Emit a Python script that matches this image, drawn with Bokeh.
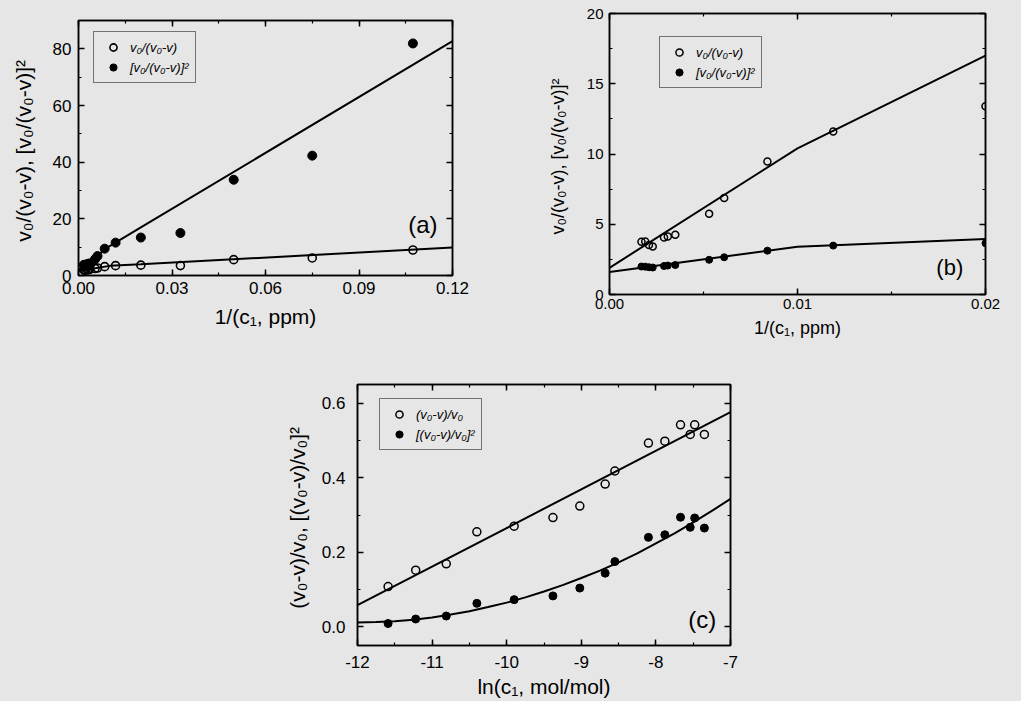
from bokeh.plotting import figure
from bokeh.layouts import row, column, Spacer
from bokeh.models import (LinearAxis, SingleIntervalTicker, NumeralTickFormatter,
                          Legend, LegendItem, Label, Range1d, CustomLabelingPolicy)
from bokeh.embed import file_html
from bokeh.resources import INLINE

# ---------------- data ----------------
# panels (a)/(b): x = 1/(c1, ppm)
inv_c = [0.0017, 0.0019, 0.0021, 0.0023, 0.0029, 0.0031, 0.0035, 0.0053, 0.0061,
         0.0084, 0.0119, 0.0200, 0.0327, 0.0498, 0.0750, 0.1073]
ratio = [1.99, 1.98, 1.94, 1.92, 2.03, 2.06, 2.10, 2.47, 2.65,
         3.12, 3.48, 3.65, 3.5, 5.6, 6.2, 9.0]
ratio_sq = [3.75, 3.78, 3.52, 3.42, 4.05, 4.12, 4.25, 5.74, 6.86,
            9.47, 11.6, 13.4, 15.0, 33.8, 42.3, 81.9]
fit_x = [0.0, 0.01, 0.02, 0.12]
fit_hi = [1.9, 10.4, 17.0, 82.7]
fit_lo = [1.6, 3.4, 3.95, 9.9]

# panel (c): x = ln(c1, mol/mol)
ln_c = [-11.59, -11.22, -10.81, -10.40, -9.90, -9.38, -9.02, -8.68, -8.55,
        -8.10, -7.88, -7.67, -7.54, -7.48, -7.35]
frac = [0.108, 0.152, 0.169, 0.255, 0.270, 0.293, 0.324, 0.383, 0.418,
        0.493, 0.498, 0.542, 0.516, 0.542, 0.516]
frac_sq = [0.009, 0.021, 0.029, 0.063, 0.073, 0.083, 0.104, 0.144, 0.175,
           0.240, 0.247, 0.294, 0.267, 0.292, 0.265]
cfit_hi_x = [-12.0, -7.0]
cfit_hi_y = [0.058, 0.576]
cfit_lo_x = [-12.0, -11.75, -11.5, -11.25, -11.0, -10.75, -10.5, -10.25, -10.0, -9.75,
             -9.5, -9.25, -9.0, -8.75, -8.5, -8.25, -8.0, -7.75, -7.5, -7.25, -7.0]
cfit_lo_y = [0.012, 0.013, 0.015, 0.019, 0.025, 0.033, 0.042, 0.053, 0.065, 0.079,
             0.095, 0.112, 0.131, 0.151, 0.173, 0.197, 0.224, 0.251, 0.280, 0.311, 0.343]

BG = "#e6e6e6"
FONT = "Liberation Sans"

NO_LABELS = CustomLabelingPolicy(code="""
    const all = [...indices]
    for (const i of all) indices.unset(i)
    return indices
""")


def style(p, xt, yt, xfmt, yfmt, tick_size, label_size, xstand, ystand, xlab, ylab):
    for ax in (p.xaxis[0], p.yaxis[0]):
        ax.major_tick_in = 6
        ax.major_tick_out = 0
        ax.minor_tick_in = 3
        ax.minor_tick_out = 0
        ax.axis_line_color = "black"
        ax.axis_line_width = 1.5
        ax.major_tick_line_width = 1.5
        ax.minor_tick_line_width = 1.2
        ax.major_label_text_font = FONT
        ax.major_label_text_font_size = tick_size
        ax.major_label_text_color = "black"
        ax.axis_label_text_font = FONT
        ax.axis_label_text_font_size = label_size
        ax.axis_label_text_font_style = "normal"
        ax.axis_label_text_color = "black"
    p.xaxis[0].ticker = xt
    p.yaxis[0].ticker = yt
    p.xaxis[0].formatter = NumeralTickFormatter(format=xfmt)
    p.yaxis[0].formatter = NumeralTickFormatter(format=yfmt)
    p.xaxis[0].major_label_standoff = xstand
    p.yaxis[0].major_label_standoff = ystand
    p.xaxis[0].axis_label_standoff = xlab
    p.yaxis[0].axis_label_standoff = ylab
    for t, loc in ((xt, "above"), (yt, "right")):
        m = LinearAxis(ticker=t, major_label_policy=NO_LABELS,
                       major_label_text_font_size="0px", axis_label_standoff=0,
                       major_tick_in=6, major_tick_out=0, minor_tick_in=3,
                       minor_tick_out=0, major_label_standoff=0,
                       axis_line_color="black", axis_line_width=1.5,
                       major_tick_line_width=1.5, minor_tick_line_width=1.2)
        p.add_layout(m, loc)
    p.xgrid.visible = False
    p.ygrid.visible = False
    p.outline_line_color = "black"
    p.outline_line_width = 1.5
    p.background_fill_color = BG
    p.border_fill_color = BG


def add_legend(p, r1, r2, t1, t2, loc):
    leg = Legend(items=[LegendItem(label=t1, renderers=[r1]),
                        LegendItem(label=t2, renderers=[r2])],
                 location=loc, glyph_height=18, glyph_width=26, label_height=18,
                 spacing=2, padding=6, margin=0, label_standoff=4,
                 label_text_font=FONT, label_text_font_size="13px",
                 label_text_font_style="italic", label_text_color="black",
                 border_line_color="black", border_line_width=1.5,
                 background_fill_color=BG, background_fill_alpha=1)
    p.add_layout(leg, "center")


# ---------------- panel (a) ----------------
pa = figure(frame_width=374, frame_height=255, min_border_left=78, min_border_right=46,
            min_border_top=13, min_border_bottom=52, output_backend="svg", title=None,
            toolbar_location=None, x_range=Range1d(0, 0.12), y_range=Range1d(0, 90),
            x_axis_label="1/(c₁, ppm)", y_axis_label="v₀/(v₀-v),  [v₀/(v₀-v)]²")
style(pa, SingleIntervalTicker(interval=0.03, num_minor_ticks=2),
      SingleIntervalTicker(interval=20, num_minor_ticks=2), "0.00", "0", "17px", "21px",
      6, 7, 8, 15)
pa.line(fit_x, fit_hi, line_color="black", line_width=2)
pa.line(fit_x, fit_lo, line_color="black", line_width=2)
ra1 = pa.scatter(inv_c, ratio, marker="circle", size=8, fill_color=None,
                 line_color="black", line_width=1.6)
ra2 = pa.scatter(inv_c, ratio_sq, marker="circle", size=9, fill_color="black",
                 line_color="black")
add_legend(pa, ra1, ra2, "v₀/(v₀-v)", "[v₀/(v₀-v)]²", (15, 192))
pa.add_layout(Label(x=0.1105, y=18, text="(a)", text_font=FONT, text_font_size="24px",
                    text_align="center", text_baseline="middle", text_color="black"))

# ---------------- panel (b) ----------------
nb = sum(1 for v in inv_c if v <= 0.02)
pb = figure(frame_width=376, frame_height=281, min_border_left=111, min_border_right=20,
            min_border_top=13, min_border_bottom=52, output_backend="svg", title=None,
            toolbar_location=None, x_range=Range1d(0, 0.02), y_range=Range1d(0, 20),
            x_axis_label="1/(c₁, ppm)", y_axis_label="v₀/(v₀-v),  [v₀/(v₀-v)]²")
style(pb, SingleIntervalTicker(interval=0.01, num_minor_ticks=2),
      SingleIntervalTicker(interval=5, num_minor_ticks=2), "0.00", "0", "15px", "18px",
      4, 6, 6, 16)
pb.line(fit_x[:3], fit_hi[:3], line_color="black", line_width=2)
pb.line(fit_x[:3], fit_lo[:3], line_color="black", line_width=2)
rb1 = pb.scatter(inv_c[:nb], ratio_sq[:nb], marker="circle", size=7, fill_color=None,
                 line_color="black", line_width=1.5)
rb2 = pb.scatter(inv_c[:nb], ratio[:nb], marker="circle", size=7, fill_color="black",
                 line_color="black")
add_legend(pb, rb1, rb2, "v₀/(v₀-v)", "[v₀/(v₀-v)]²", (50, 206))
pb.add_layout(Label(x=0.0181, y=1.9, text="(b)", text_font=FONT, text_font_size="22px",
                    text_align="center", text_baseline="middle", text_color="black"))

# ---------------- panel (c) ----------------
pc = figure(frame_width=373, frame_height=261, min_border_left=89, min_border_right=30,
            min_border_top=38, min_border_bottom=52, output_backend="svg", title=None,
            toolbar_location=None, x_range=Range1d(-12, -7), y_range=Range1d(-0.05, 0.65),
            x_axis_label="ln(c₁, mol/mol)", y_axis_label="(v₀-v)/v₀,  [(v₀-v)/v₀]²")
style(pc, SingleIntervalTicker(interval=1, num_minor_ticks=2),
      SingleIntervalTicker(interval=0.2, num_minor_ticks=2), "0", "0.0", "17px", "21px",
      10, 12, 4, 10)
pc.line(cfit_hi_x, cfit_hi_y, line_color="black", line_width=2)
pc.line(cfit_lo_x, cfit_lo_y, line_color="black", line_width=2)
rc1 = pc.scatter(ln_c, frac, marker="circle", size=8, fill_color=None,
                 line_color="black", line_width=1.5)
rc2 = pc.scatter(ln_c, frac_sq, marker="circle", size=8, fill_color="black",
                 line_color="black")
add_legend(pc, rc1, rc2, "(v₀-v)/v₀", "[(v₀-v)/v₀]²", (22, 195))
pc.add_layout(Label(x=-7.38, y=0.02, text="(c)", text_font=FONT, text_font_size="24px",
                    text_align="center", text_baseline="middle", text_color="black"))

top = row(column(Spacer(width=10, height=7), pa), pb)
bottom = row(Spacer(width=268, height=10), pc)
layout = column(top, bottom)
html = file_html(layout, INLINE)
html = html.replace("</head>",
                    "<style>html, body { background-color: #e6e6e6 !important; }</style></head>", 1)
open("out.html", "w").write(html)
